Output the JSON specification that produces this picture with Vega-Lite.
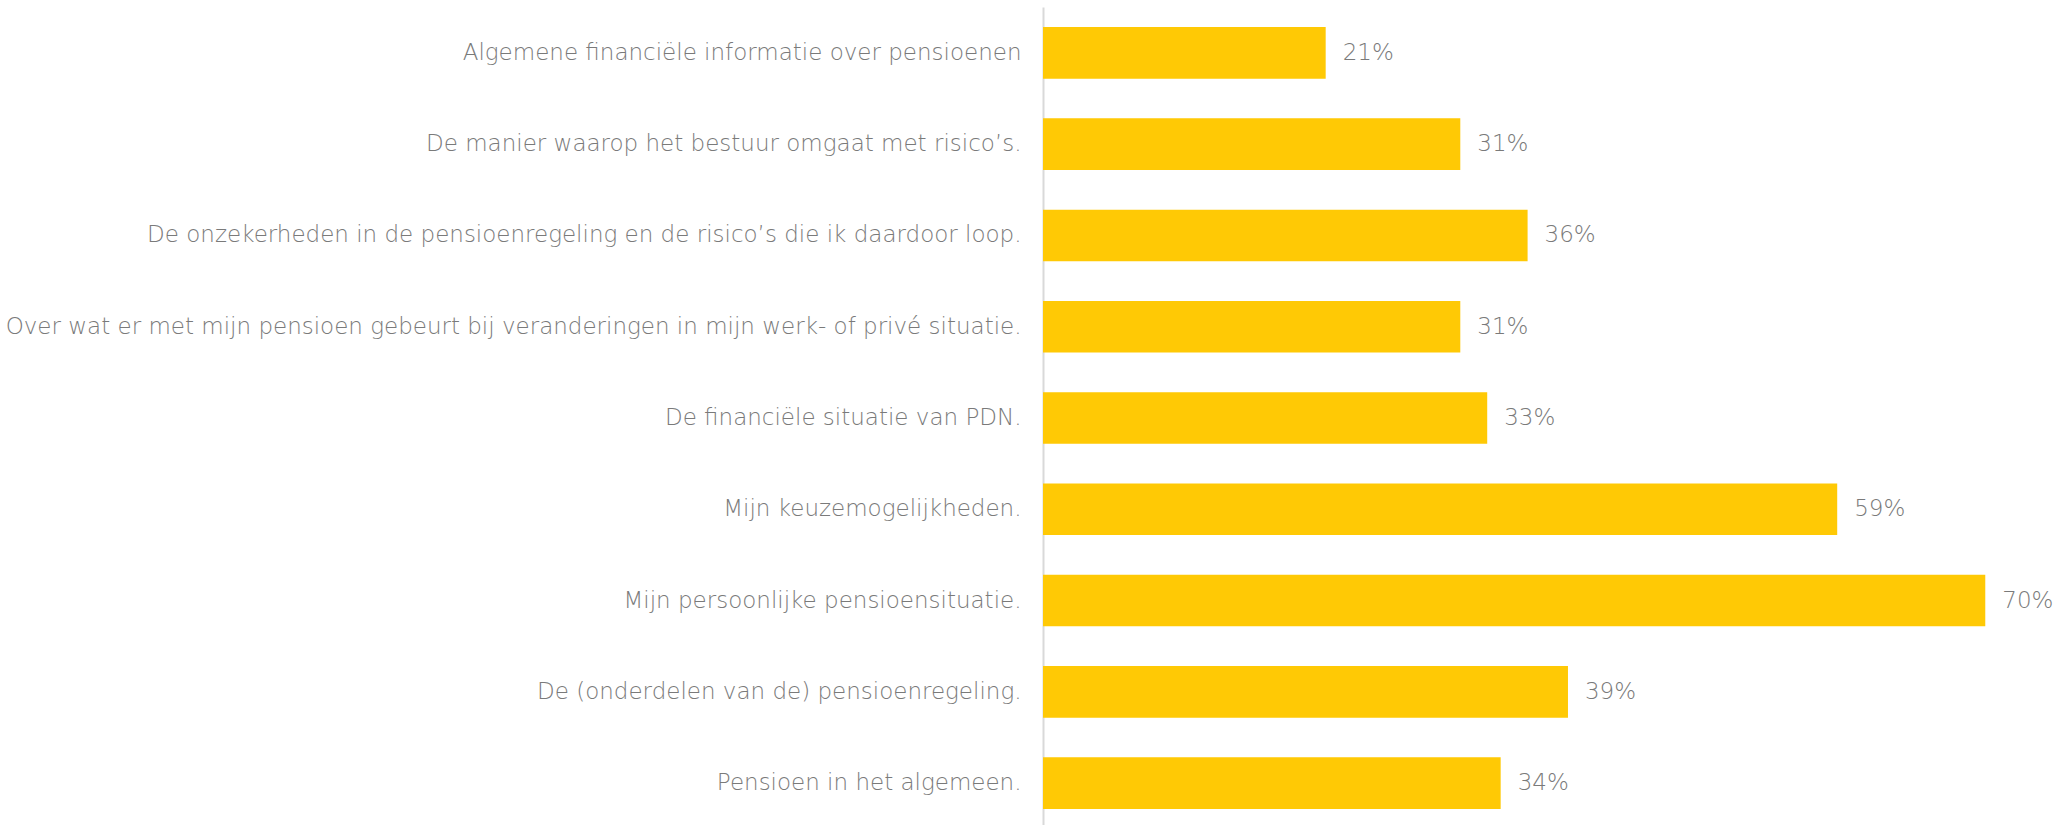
{
  "$schema": "https://vega.github.io/schema/vega-lite/v6.json",
  "width": 1019,
  "height": 822,
  "autosize": {"type": "none"},
  "padding": {"left": 1043, "top": 7, "right": 0, "bottom": 0},
  "background": "white",
  "config": {"view": {"stroke": null}, "font": "DejaVu Sans"},
  "data": {"values": [
    {"item": "Algemene financiële informatie over pensioenen", "pct": 0.21},
    {"item": "De manier waarop het bestuur omgaat met risico’s.", "pct": 0.31},
    {"item": "De onzekerheden in de pensioenregeling en de risico’s die ik daardoor loop.", "pct": 0.36},
    {"item": "Over wat er met mijn pensioen gebeurt bij veranderingen in mijn werk- of privé situatie.", "pct": 0.31},
    {"item": "De financiële situatie van PDN.", "pct": 0.33},
    {"item": "Mijn keuzemogelijkheden.", "pct": 0.59},
    {"item": "Mijn persoonlijke pensioensituatie.", "pct": 0.70},
    {"item": "De (onderdelen van de) pensioenregeling.", "pct": 0.39},
    {"item": "Pensioen in het algemeen.", "pct": 0.34}
  ]},
  "encoding": {
    "y": {"field": "item", "type": "nominal", "sort": null,
      "scale": {"paddingInner": 0.435, "paddingOuter": 0.22},
      "axis": {"title": null, "ticks": false, "domainColor": "#d9d9d9", "domainWidth": 2,
        "labelFont": "DejaVu Sans", "labelFontWeight": 200, "labelFontSize": 23, "labelColor": "#7a7a7a", "labelPadding": 22, "labelLimit": 1100}},
    "x": {"field": "pct", "type": "quantitative", "scale": {"domain": [0, 0.757]}, "axis": null}
  },
  "layer": [
    {"mark": {"type": "bar", "color": "#FFC905"}},
    {"mark": {"type": "text", "align": "left", "dx": 17, "font": "DejaVu Sans", "fontWeight": 200, "fontSize": 23, "color": "#7a7a7a"},
     "encoding": {"text": {"field": "pct", "type": "quantitative", "format": ".0%"}}}
  ]
}
